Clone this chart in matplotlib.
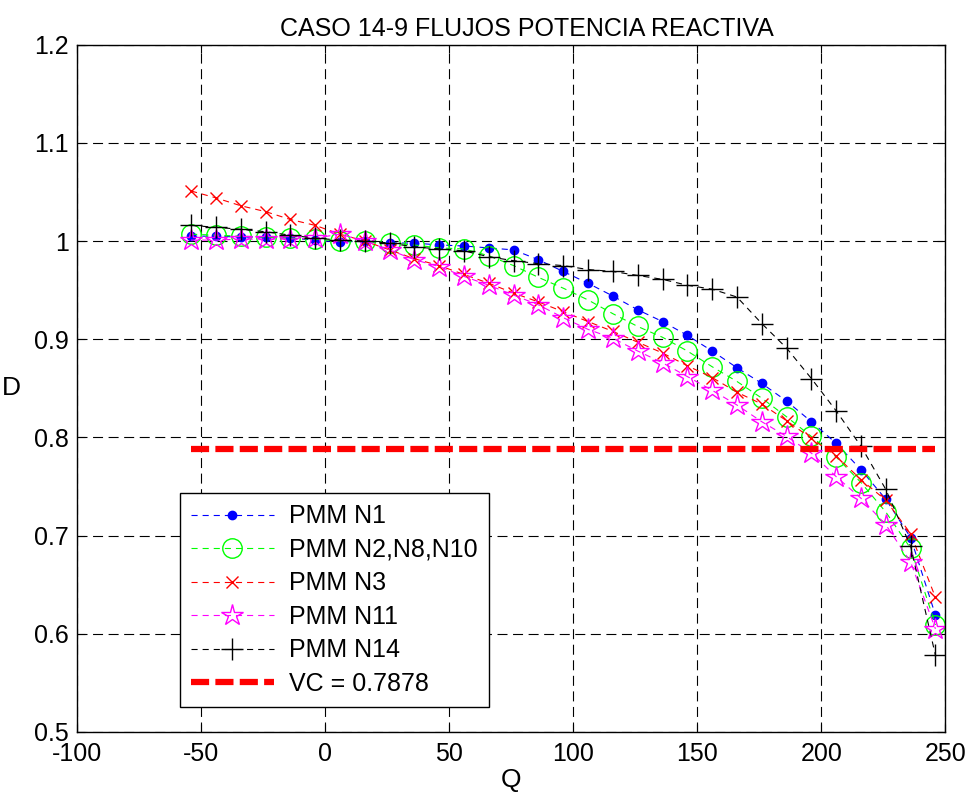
import matplotlib
matplotlib.use("Agg")
import matplotlib.pyplot as plt
import numpy as np

plt.rcParams['font.family'] = ['Liberation Sans', 'DejaVu Sans']
plt.rcParams['axes.unicode_minus'] = False

q = [-54, -44, -34, -24, -14, -4, 6, 16, 26, 36, 46, 56, 66, 76, 86, 96, 106,
     116, 126, 136, 146, 156, 166, 176, 186, 196, 206, 216, 226, 236, 246]

n1 = [1.005, 1.005, 1.004, 1.004, 1.003, 1.001, 0.999, 1.000, 0.998, 0.998, 0.996,
      0.995, 0.993, 0.991, 0.981, 0.969, 0.957, 0.944, 0.930, 0.918, 0.904, 0.888,
      0.871, 0.855, 0.837, 0.816, 0.794, 0.767, 0.737, 0.698, 0.619]
n2 = [1.007, 1.006, 1.005, 1.004, 1.003, 1.002, 1.000, 1.000, 0.998, 0.996, 0.993,
      0.992, 0.985, 0.975, 0.963, 0.952, 0.940, 0.926, 0.913, 0.902, 0.888, 0.872,
      0.857, 0.840, 0.821, 0.801, 0.780, 0.754, 0.724, 0.687, 0.609]
n3 = [1.051, 1.044, 1.036, 1.030, 1.022, 1.016, 1.007, 1.000, 0.991, 0.982, 0.975,
      0.966, 0.957, 0.947, 0.938, 0.928, 0.918, 0.908, 0.897, 0.886, 0.873, 0.861,
      0.846, 0.834, 0.817, 0.799, 0.781, 0.757, 0.736, 0.702, 0.637]
n11 = [1.001, 1.001, 1.002, 1.002, 1.002, 1.003, 1.007, 1.000, 0.991, 0.981, 0.974,
       0.964, 0.955, 0.945, 0.935, 0.922, 0.910, 0.901, 0.888, 0.876, 0.862, 0.848,
       0.833, 0.816, 0.801, 0.784, 0.760, 0.738, 0.711, 0.673, 0.605]
n14 = [1.016, 1.014, 1.012, 1.0095, 1.006, 1.003, 1.001, 1.000, 0.998, 0.994, 0.992,
       0.990, 0.984, 0.980, 0.977, 0.975, 0.971, 0.969, 0.965, 0.961, 0.955, 0.951,
       0.943, 0.916, 0.891, 0.860, 0.827, 0.791, 0.747, 0.689, 0.578]
vc = 0.7878

labels = ['PMM N1', 'PMM N2,N8,N10', 'PMM N3', 'PMM N11', 'PMM N14', 'VC = 0.7878']

fig = plt.figure(figsize=(9.74, 8.0), dpi=100)
ax = fig.add_axes([0.079, 0.0851, 0.8916, 0.859])

dash = (0, (5.5, 4.5))
lw = 0.8
ax.plot(q, n1, color='#0000FF', linestyle=dash, linewidth=lw, marker='.', markersize=12,
        label=labels[0])
ax.plot(q, n2, color='#00FF00', linestyle=dash, linewidth=lw, marker='o', markersize=14,
        markerfacecolor='none', markeredgewidth=1.0, label=labels[1])
ax.plot(q, n3, color='#FF0000', linestyle=dash, linewidth=lw, marker='x', markersize=8,
        markeredgewidth=1.0, label=labels[2])
ax.plot(q, n11, color='#FF00FF', linestyle=dash, linewidth=lw, marker='*', markersize=16,
        markerfacecolor='none', markeredgewidth=1.0, label=labels[3])
ax.plot(q, n14, color='black', linestyle=dash, linewidth=lw, marker='+', markersize=16,
        markeredgewidth=1.0, label=labels[4])
ax.plot([q[0], q[-1]], [vc, vc], color='#FF0000', linestyle=(0, (2.9, 1.0)), linewidth=4.5,
        label=labels[5])

ax.set_xlim(-100, 250)
ax.set_ylim(0.5, 1.2)
ax.set_xticks(np.arange(-100, 251, 50))
ax.set_yticks(np.round(np.arange(0.5, 1.201, 0.1), 1))
ax.set_yticklabels(['0.5', '0.6', '0.7', '0.8', '0.9', '1', '1.1', '1.2'])
ax.grid(True, color='black', linestyle=(0, (9, 5)), linewidth=0.8)
ax.tick_params(direction='in', top=True, right=True, labelsize=18, length=6)
ax.tick_params(axis='x', pad=7)
ax.tick_params(axis='y', pad=6)
for s in ax.spines.values():
    s.set_linewidth(1.0)

ax.set_title('CASO 14-9 FLUJOS POTENCIA REACTIVA', fontsize=18, pad=6, x=0.518)
ax.set_xlabel('Q', fontsize=19, labelpad=2)
ax.set_ylabel('D', fontsize=19, rotation=0, labelpad=16, va='center')

leg = ax.legend(loc='lower left', bbox_to_anchor=(0.1186, 0.0362), borderaxespad=0,
                fontsize=18, fancybox=False, framealpha=1, edgecolor='black',
                handlelength=3.3, labelspacing=0.38, borderpad=0.45, handletextpad=0.6)
leg.get_frame().set_linewidth(1.0)

fig.savefig('out.png', dpi=100)
